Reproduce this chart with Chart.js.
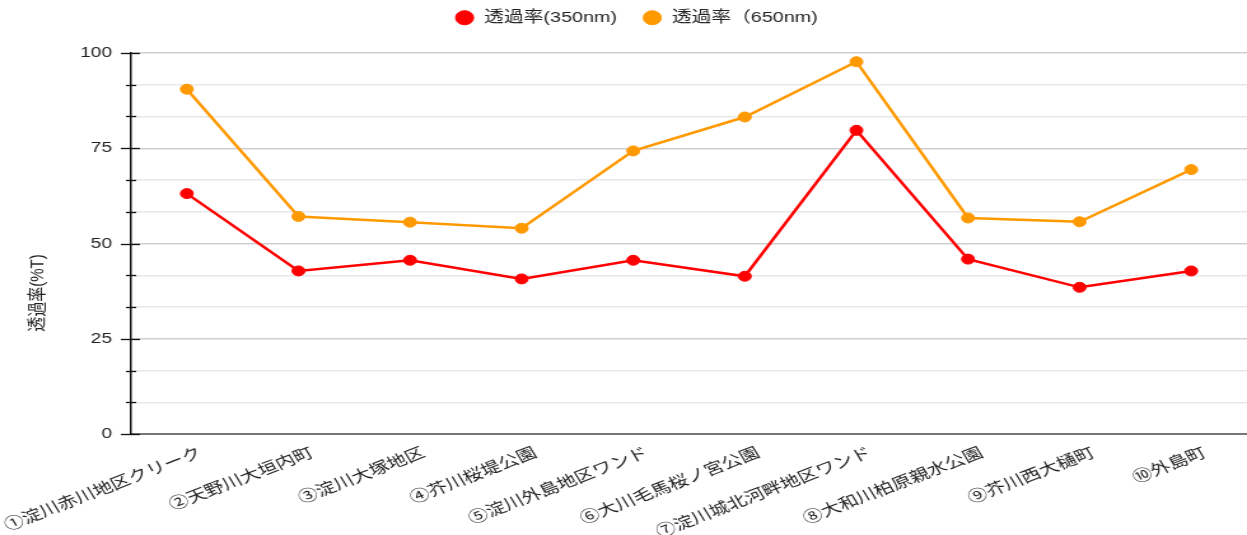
<!DOCTYPE html>
<html>
<head>
<meta charset="utf-8">
<script src="https://cdn.jsdelivr.net/npm/chart.js@4.4.0/dist/chart.umd.min.js"></script>
<style>
html,body{margin:0;padding:0;background:#fff;}
#c{display:block;width:1247px;height:535px;}
</style>
</head>
<body>
<canvas id="c" width="980" height="535" style="width:1247px;height:535px;display:block"></canvas>
<script>
const categories = ['①淀川赤川地区クリーク','②天野川大垣内町','③淀川大塚地区','④芥川桜堤公園','⑤淀川外島地区ワンド','⑥大川毛馬桜ノ宮公園','⑦淀川城北河畔地区ワンド','⑧大和川柏原親水公園','⑨芥川西大樋町','⑩外島町'];
const seriesNames = ['透過率(350nm)','透過率（650nm)'];
const values350 = [63.1, 42.8, 45.6, 40.7, 45.6, 41.4, 79.7, 45.9, 38.5, 42.8];
const values650 = [90.5, 57.1, 55.6, 54.0, 74.3, 83.2, 97.7, 56.7, 55.7, 69.4];
const yMin = 0, yMax = 100, yLabelStep = 25, yMinorStep = 25/3;
const yTitle = '透過率(%T)';

const FONT = "'Liberation Sans', Arial, 'Noto Sans CJK JP', sans-serif";
const isMajor = v => Math.abs(v / yLabelStep - Math.round(v / yLabelStep)) < 1e-6;

const tickMarks = {
  id: 'tickMarks',
  afterDraw(chart) {
    const y = chart.scales.y;
    const ctx = chart.ctx;
    const ax = chart.chartArea.left;
    ctx.save();
    ctx.strokeStyle = '#111';
    ctx.lineWidth = 1.3;
    y.ticks.forEach(t => {
      const p = Math.round(y.getPixelForValue(t.value)) + 0.5;
      const maj = isMajor(t.value);
      ctx.beginPath();
      ctx.moveTo(ax - (maj ? 8 : 4), p);
      ctx.lineTo(ax + (maj ? 7 : 4), p);
      ctx.stroke();
    });
    ctx.save();
    ctx.fillStyle = '#222';
    ctx.font = '15px ' + FONT;
    ctx.textAlign = 'center';
    ctx.textBaseline = 'middle';
    ctx.translate(30, 293);
    ctx.rotate(-Math.PI / 2);
    ctx.fillText(yTitle, 0, 0);
    ctx.restore();
    ctx.restore();
  }
};

const legendTweak = {
  id: 'legendTweak',
  afterInit(chart) {
    const lg = chart.legend;
    const fit = lg.fit;
    lg.fit = function() { fit.call(this); this.height = 53; };
    const draw = lg.draw;
    lg.draw = function() {
      this.ctx.save();
      this.ctx.translate(10, -10);
      draw.call(this);
      this.ctx.restore();
    };
  }
};

new Chart(document.getElementById('c'), {
  type: 'line',
  data: {
    labels: categories,
    datasets: [
      { label: seriesNames[0], data: values350, borderColor: '#ff0000', backgroundColor: '#ff0000',
        borderWidth: 2.5, pointRadius: 5, pointBorderWidth: 1, pointHoverRadius: 5, tension: 0, fill: false },
      { label: seriesNames[1], data: values650, borderColor: '#ff9900', backgroundColor: '#ff9900',
        borderWidth: 2.5, pointRadius: 5, pointBorderWidth: 1, pointHoverRadius: 5, tension: 0, fill: false }
    ]
  },
  options: {
    responsive: false,
    devicePixelRatio: 1,
    animation: false,
    layout: { padding: 0, autoPadding: false },
    plugins: {
      legend: {
        position: 'top',
        labels: {
          usePointStyle: true, pointStyle: 'circle', boxWidth: 18, boxHeight: 10,
          padding: 20, color: '#222', font: { family: FONT, size: 15.5 }
        }
      },
      tooltip: { enabled: false }
    },
    scales: {
      x: {
        offset: true,
        grid: { display: false, drawTicks: false },
        border: { display: true, color: '#777', width: 2 },
        ticks: { autoSkip: false, minRotation: 26, maxRotation: 26, padding: 10, labelOffset: 11,
                 color: '#222', font: { family: FONT, size: 15.5 } },
        afterFit(s) { s.height = 101; s.paddingLeft = 0; s.paddingRight = 0; }
      },
      y: {
        min: yMin, max: yMax,
        grid: {
          drawTicks: false,
          color: ctx => (ctx.tick && isMajor(ctx.tick.value)) ? '#cfcfcf' : '#e8e8e8',
          lineWidth: 1.5
        },
        border: { display: true, color: '#111', width: 1.5 },
        ticks: {
          stepSize: yMinorStep, padding: 15, color: '#222',
          font: { family: FONT, size: 15 },
          callback: v => isMajor(v) ? String(Math.round(v)) : ''
        },
        title: { display: false },
        afterFit(s) { s.width = 103; s.paddingTop = 0; s.paddingBottom = 0; }
      }
    }
  },
  plugins: [tickMarks, legendTweak]
});
</script>
</body>
</html>
